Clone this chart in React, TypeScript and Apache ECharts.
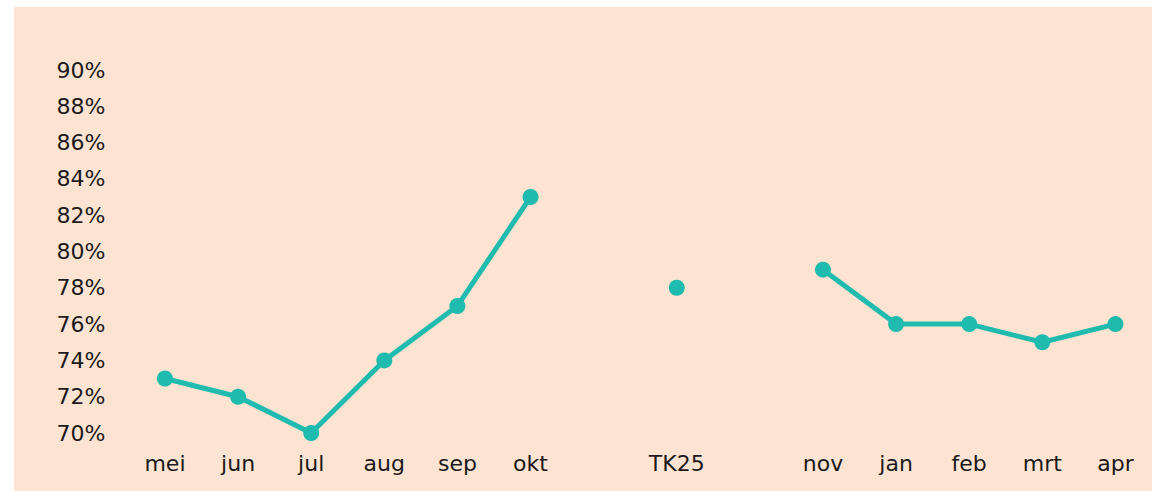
import React, { useEffect, useRef } from "react";
import * as echarts from "echarts";

const categories = ["mei", "jun", "jul", "aug", "sep", "okt", "", "TK25", "", "nov", "jan", "feb", "mrt", "apr"];
const values: (number | null)[] = [73, 72, 70, 74, 77, 83, null, 78, null, 79, 76, 76, 75, 76];
const yMin = 70;
const yMax = 90;
const yStep = 2;

export default function App() {
  const ref = useRef<HTMLDivElement>(null);
  useEffect(() => {
    if (!ref.current) return;
    const chart = echarts.init(ref.current, null, { renderer: "svg" });
    const font = "'DejaVu Sans', 'Noto Sans', sans-serif";
    chart.setOption({
      animation: false,
      backgroundColor: "#ffffff",
      graphic: [
        {
          type: "rect",
          z: -10,
          silent: true,
          shape: { x: 14, y: 7, width: 1138, height: 484 },
          style: { fill: "#FDE4D2" },
        },
      ],
      grid: { left: 128.4, top: 70, width: 1025, height: 363, containLabel: false },
      xAxis: {
        type: "category",
        data: categories,
        boundaryGap: true,
        axisLine: { show: false },
        axisTick: { show: false },
        splitLine: { show: false },
        axisLabel: { color: "#1a1a1a", fontSize: 22, fontFamily: font, margin: 19, interval: 0 },
      },
      yAxis: {
        type: "value",
        min: yMin,
        max: yMax,
        interval: yStep,
        axisLine: { show: false },
        axisTick: { show: false },
        splitLine: { show: false },
        axisLabel: {
          color: "#1a1a1a",
          fontSize: 22,
          fontFamily: font,
          margin: 23,
          formatter: (v: number) => `${v}%`,
        },
      },
      series: [
        {
          type: "line",
          data: values,
          connectNulls: false,
          symbol: "circle",
          symbolSize: 16,
          showAllSymbol: true,
          lineStyle: { color: "#1FBBAE", width: 5 },
          itemStyle: { color: "#1FBBAE" },
        },
      ],
    });
    return () => chart.dispose();
  }, []);
  return (
    <div
      ref={ref}
      style={{ position: "absolute", left: 0, top: 0, width: 1152, height: 491 }}
    />
  );
}
